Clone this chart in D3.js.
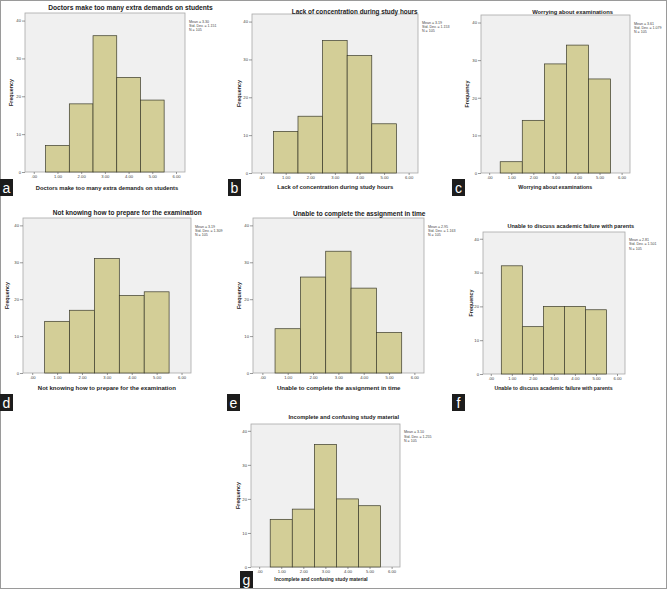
<!DOCTYPE html>
<html><head><meta charset="utf-8">
<script src="https://cdn.jsdelivr.net/npm/d3@7"></script>
<style>body{margin:0;background:#fff}svg{display:block}text{font-family:"Liberation Sans",Arial,sans-serif}</style>
</head><body>
<svg id="c" width="669" height="590"></svg>
<script>
// ---- data ----
const panelLetters = ["a","b","c","d","e","f","g"];
const titles = [
  "Doctors make too many extra demands on students",
  "Lack of concentration during study hours",
  "Worrying about examinations",
  "Not knowing how to prepare for the examination",
  "Unable to complete the assignment in time",
  "Unable to discuss academic failure with parents",
  "Incomplete and confusing study material"
];
const binCenters = [1, 2, 3, 4, 5];
const doctorsDemands = [7, 18, 36, 25, 19];
const lackConcentration = [11, 15, 35, 31, 13];
const worryingExams = [3, 14, 29, 34, 25];
const notKnowingPrepare = [14, 17, 31, 21, 22];
const unableAssignment = [12, 26, 33, 23, 11];
const unableDiscussParents = [32, 14, 20, 20, 19];
const incompleteMaterial = [14, 17, 36, 20, 18];
const seriesList = [doctorsDemands, lackConcentration, worryingExams, notKnowingPrepare, unableAssignment, unableDiscussParents, incompleteMaterial];
const means = ["3.30", "3.19", "3.61", "3.19", "2.95", "2.81", "3.10"];
const stdDevs = ["1.151", "1.153", "1.079", "1.309", "1.163", "1.501", "1.255"];
const nValues = ["105", "105", "105", "105", "105", "105", "105"];
const xTickValues = [0, 1, 2, 3, 4, 5, 6];
const xTickLabels = [".00", "1.00", "2.00", "3.00", "4.00", "5.00", "6.00"];
const yTickValues = [0, 10, 20, 30, 40];

// ---- layout (positions only) ----
const layout = [
  {frame:[25,13,185,172],  title:[48,213,7.5],      xlab:[35.7,178.3,187.5], ylabX:11,    letter:[0,179]},
  {frame:[252,14,418,173], title:[291.7,417.7,11.5], xlab:[277.3,393.3,187],  ylabX:239,   letter:[228,179]},
  {frame:[481,15,630,173], title:[532,613,11.5],     xlab:[518.3,592.3,187],  ylabX:466.7, letter:[452,179]},
  {frame:[23,218,191,373], title:[52.7,201.7,212.3], xlab:[37.7,176,387.5],   ylabX:7.3,   letter:[0,394]},
  {frame:[253,218,424,373],title:[292.7,425.7,213.3],xlab:[276.7,400.7,387.5],ylabX:239,   letter:[227,394]},
  {frame:[483,232,625,374],title:[507.3,634.3,226],  xlab:[494.3,612.7,388],  ylabX:470.7, letter:[452,394]},
  {frame:[251,424,400,567],title:[288.3,399.3,417.3],xlab:[274.3,367.7,579.5],ylabX:238.3, letter:[240,571]}
];
const xDomain = [-0.37, 6.38];
const yDomain = [0, 42];

const svg = d3.select("#c");
svg.append("rect").attr("x",0.5).attr("y",0.5).attr("width",666).attr("height",588)
  .attr("fill","#fff").attr("stroke","#9a9a9a").attr("stroke-width",1);

function fitText(sel, span){
  sel.attr("font-size",10);
  const L = sel.node().getComputedTextLength();
  sel.attr("font-size", 10*span/L);
}

layout.forEach((L,i)=>{
  const [x0,y0,x1,y1] = L.frame;
  const x = d3.scaleLinear().domain(xDomain).range([x0,x1]);
  const y = d3.scaleLinear().domain(yDomain).range([y1,y0]);
  const g = svg.append("g");
  g.append("rect").attr("x",x0).attr("y",y0).attr("width",x1-x0).attr("height",y1-y0)
    .attr("fill","#f0f0f0").attr("stroke","#a8a8a8").attr("stroke-width",0.8);
  // bars
  g.selectAll("rect.bar").data(seriesList[i]).join("rect").attr("class","bar")
    .attr("x",(d,j)=>x(binCenters[j]-0.5))
    .attr("width",(d,j)=>x(binCenters[j]+0.5)-x(binCenters[j]-0.5))
    .attr("y",d=>y(d)).attr("height",d=>y(0)-y(d))
    .attr("fill","#d3ce97").attr("stroke","#3a3a2a").attr("stroke-width",0.7);
  // axes
  const yAx = g.append("g").attr("transform",`translate(${x0},0)`)
    .call(d3.axisLeft(y).tickValues(yTickValues).tickSize(3).tickPadding(1).tickFormat(d3.format("d")));
  yAx.select(".domain").remove();
  yAx.selectAll("line").attr("stroke","#555").attr("stroke-width",0.6);
  yAx.selectAll("text").attr("font-size",4.2).attr("fill","#444").attr("font-family","Liberation Sans, Arial, sans-serif");
  const xAx = g.append("g").attr("transform",`translate(0,${y1})`)
    .call(d3.axisBottom(x).tickValues(xTickValues).tickSize(2).tickPadding(1).tickFormat((d,k)=>xTickLabels[k]));
  xAx.select(".domain").remove();
  xAx.selectAll("line").attr("stroke","#555").attr("stroke-width",0.6);
  xAx.selectAll("text").attr("font-size",4.2).attr("fill","#444").attr("font-family","Liberation Sans, Arial, sans-serif");
  // title
  const t = g.append("text").text(titles[i]).attr("font-weight","bold").attr("fill","#222")
    .attr("text-anchor","middle").attr("dominant-baseline","central")
    .attr("x",(L.title[0]+L.title[1])/2).attr("y",L.title[2]);
  fitText(t, L.title[1]-L.title[0]);
  // x label
  const xl = g.append("text").text(titles[i]).attr("font-weight","bold").attr("fill","#222")
    .attr("text-anchor","middle").attr("dominant-baseline","central")
    .attr("x",(L.xlab[0]+L.xlab[1])/2).attr("y",L.xlab[2]);
  fitText(xl, L.xlab[1]-L.xlab[0]);
  // y label
  g.append("text").text("Frequency").attr("font-weight","bold").attr("fill","#222")
    .attr("font-size",5.3).attr("text-anchor","middle").attr("dominant-baseline","central")
    .attr("transform",`translate(${L.ylabX},${(y0+y1)/2}) rotate(-90)`);
  // stats
  const sy = y(40)+1.6;
  const lines = ["Mean = "+means[i], "Std. Dev. = "+stdDevs[i], "N = "+nValues[i]];
  lines.forEach((s,k)=>{
    g.append("text").text(s).attr("font-size",3.6).attr("fill","#444")
      .attr("dominant-baseline","central").attr("x",x1+4).attr("y",sy+k*4.1);
  });
  // panel letter
  const [lx,ly] = L.letter;
  g.append("rect").attr("x",lx).attr("y",ly).attr("width",13).attr("height",17).attr("fill","#1c1c1c");
  g.append("text").text(panelLetters[i]).attr("x",lx+6.5).attr("y",ly+8.5).attr("fill","#fff")
    .attr("font-size",14).attr("text-anchor","middle").attr("dominant-baseline","central");
});
</script>
</body></html>
